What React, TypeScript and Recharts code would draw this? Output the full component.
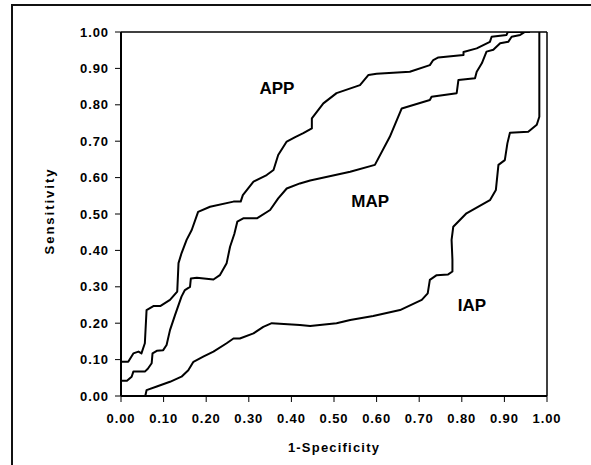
import React from 'react';
import { LineChart, Line, XAxis, YAxis, ReferenceLine, ReferenceDot, Label } from 'recharts';

const tickValues = [0, 0.1, 0.2, 0.3, 0.4, 0.5, 0.6, 0.7, 0.8, 0.9, 1.0];

const appX = [0, 0.017, 0.029, 0.041, 0.048, 0.056, 0.06, 0.076, 0.092, 0.115, 0.132, 0.135, 0.142, 0.154, 0.166, 0.181, 0.209, 0.264, 0.281, 0.286, 0.311, 0.342, 0.358, 0.369, 0.389, 0.41, 0.428, 0.448, 0.448, 0.475, 0.506, 0.561, 0.581, 0.6, 0.678, 0.725, 0.733, 0.745, 0.804, 0.804, 0.835, 0.866, 0.87, 0.905, 0.908, 0.944];
const appY = [0.094, 0.094, 0.117, 0.122, 0.117, 0.145, 0.236, 0.247, 0.247, 0.264, 0.287, 0.365, 0.392, 0.429, 0.456, 0.506, 0.52, 0.534, 0.534, 0.552, 0.589, 0.607, 0.621, 0.662, 0.699, 0.712, 0.722, 0.735, 0.763, 0.804, 0.832, 0.854, 0.882, 0.885, 0.891, 0.909, 0.923, 0.93, 0.937, 0.945, 0.955, 0.973, 0.987, 0.992, 1.0, 1.0];

const mapX = [0, 0.014, 0.025, 0.029, 0.056, 0.063, 0.072, 0.074, 0.084, 0.099, 0.107, 0.115, 0.127, 0.142, 0.15, 0.162, 0.164, 0.178, 0.217, 0.232, 0.248, 0.256, 0.266, 0.273, 0.287, 0.319, 0.35, 0.369, 0.389, 0.42, 0.444, 0.538, 0.596, 0.631, 0.659, 0.725, 0.729, 0.788, 0.792, 0.831, 0.835, 0.847, 0.858, 0.874, 0.89, 0.909, 0.917, 0.937, 0.948, 0.96];
const mapY = [0.042, 0.042, 0.053, 0.067, 0.067, 0.075, 0.09, 0.117, 0.124, 0.126, 0.14, 0.181, 0.223, 0.273, 0.291, 0.3, 0.323, 0.325, 0.32, 0.332, 0.365, 0.41, 0.445, 0.479, 0.488, 0.488, 0.511, 0.543, 0.57, 0.584, 0.592, 0.616, 0.635, 0.712, 0.79, 0.813, 0.822, 0.832, 0.868, 0.873, 0.891, 0.914, 0.946, 0.951, 0.969, 0.973, 0.987, 0.992, 1.0, 1.0];

const iapX = [0.057, 0.06, 0.084, 0.115, 0.142, 0.158, 0.17, 0.193, 0.217, 0.248, 0.264, 0.279, 0.311, 0.334, 0.354, 0.42, 0.444, 0.506, 0.538, 0.592, 0.655, 0.706, 0.72, 0.725, 0.741, 0.768, 0.778, 0.778, 0.776, 0.78, 0.811, 0.866, 0.88, 0.886, 0.901, 0.907, 0.913, 0.956, 0.976, 0.982, 0.982, 0.982];
const iapY = [0.0, 0.016, 0.026, 0.039, 0.053, 0.071, 0.094, 0.108, 0.122, 0.145, 0.158, 0.158, 0.172, 0.19, 0.2, 0.195, 0.192, 0.2, 0.209, 0.22, 0.236, 0.264, 0.282, 0.319, 0.332, 0.334, 0.342, 0.374, 0.429, 0.465, 0.502, 0.538, 0.566, 0.635, 0.648, 0.694, 0.723, 0.726, 0.745, 0.767, 0.987, 1.0];

const seriesNames = ['APP', 'MAP', 'IAP'];
const labelX = [0.366, 0.585, 0.824];
const labelY = [0.845, 0.536, 0.249];

const zip = (xs: number[], ys: number[]) => xs.map((x, i) => ({ x, y: ys[i] }));
const appData = zip(appX, appY);
const mapData = zip(mapX, mapY);
const iapData = zip(iapX, iapY);

const FONT = '"Liberation Sans", Arial, Helvetica, sans-serif';
const fmt = (v: number) => v.toFixed(2);

const tickStyle = { fill: '#000', fontSize: 13, fontWeight: 'bold', fontFamily: FONT, letterSpacing: 0.9 } as any;

const XTitle = (props: any) => {
  const vb = props.viewBox || { x: 121, y: 396, width: 426, height: 69 };
  return (
    <text x={vb.x + vb.width / 2} y={vb.y + 55.5} textAnchor="middle" fill="#000"
      style={{ fontFamily: FONT, fontSize: 13, fontWeight: 'bold', letterSpacing: 1.2 }}>
      1-Specificity
    </text>
  );
};

const YTitle = (props: any) => {
  const vb = props.viewBox || { x: 0, y: 32, width: 121, height: 364 };
  const cx = vb.x + vb.width - 71.5;
  const cy = vb.y + vb.height / 2 - 3;
  return (
    <text x={cx} y={cy} textAnchor="middle" dominantBaseline="central" fill="#000"
      transform={`rotate(-90, ${cx}, ${cy})`}
      style={{ fontFamily: FONT, fontSize: 13, fontWeight: 'bold', letterSpacing: 2 }}>
      Sensitivity
    </text>
  );
};

export default function App() {
  return (
    <div style={{ position: 'absolute', left: 0, top: 0, width: 591, height: 465, overflow: 'hidden', background: '#fff' }}>
      <div style={{ position: 'absolute', left: 11, top: 4, width: 640, height: 520, border: '2px solid #111', boxSizing: 'border-box' }} />
      <div style={{ position: 'absolute', left: 0, top: 0 }}>
        <LineChart width={591} height={465} margin={{ top: 32, right: 44, bottom: 0, left: 0 }}>
          <XAxis type="number" dataKey="x" domain={[0, 1]} ticks={tickValues} tickFormatter={fmt} interval={0}
            height={69} tickSize={6} tickMargin={12} allowDataOverflow
            axisLine={{ stroke: '#000', strokeWidth: 2 }} tickLine={{ stroke: '#000', strokeWidth: 1 }} tick={tickStyle}>
            <Label content={<XTitle />} />
          </XAxis>
          <YAxis type="number" dataKey="y" domain={[0, 1]} ticks={tickValues} tickFormatter={fmt} interval={0}
            width={121} tickSize={6} tickMargin={6} allowDataOverflow
            axisLine={{ stroke: '#000', strokeWidth: 2 }} tickLine={{ stroke: '#000', strokeWidth: 1 }} tick={tickStyle}>
            <Label content={<YTitle />} />
          </YAxis>
          <ReferenceLine y={1} stroke="#000" strokeWidth={1.5} ifOverflow="visible" />
          <ReferenceLine x={1} stroke="#000" strokeWidth={1.5} ifOverflow="visible" />
          <Line data={appData} dataKey="y" type="linear" stroke="#000" strokeWidth={2} dot={false} isAnimationActive={false} strokeLinejoin="round" />
          <Line data={mapData} dataKey="y" type="linear" stroke="#000" strokeWidth={2} dot={false} isAnimationActive={false} strokeLinejoin="round" />
          <Line data={iapData} dataKey="y" type="linear" stroke="#000" strokeWidth={2} dot={false} isAnimationActive={false} strokeLinejoin="round" />
          {seriesNames.map((n, i) => (
            <ReferenceDot key={n} x={labelX[i]} y={labelY[i]} r={1} fill="none" stroke="none" ifOverflow="visible"
              label={{ value: n, position: 'center', fill: '#000', fontSize: 17, fontWeight: 'bold', fontFamily: FONT }} />
          ))}
        </LineChart>
      </div>
    </div>
  );
}
